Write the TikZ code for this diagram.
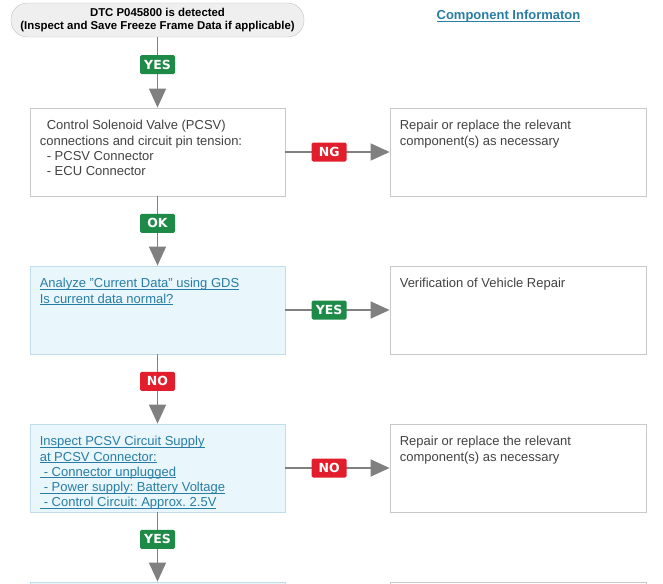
\documentclass[tikz,border=0pt]{standalone}
\usepackage{fontspec}
\setmainfont{Liberation Sans}
\newfontfamily\tagfont{DejaVu Sans}
\usetikzlibrary{arrows.meta,positioning}

\definecolor{boxline}{RGB}{201,201,201}
\definecolor{blueline}{RGB}{192,222,234}
\definecolor{bluefill}{RGB}{233,246,251}
\definecolor{pillfill}{RGB}{239,239,239}
\definecolor{pillline}{RGB}{192,192,192}
\definecolor{linkblue}{RGB}{40,125,165}
\definecolor{bodytext}{RGB}{66,66,66}
\definecolor{okgreen}{RGB}{30,138,72}
\definecolor{ngred}{RGB}{226,30,45}
\definecolor{flowgray}{RGB}{128,128,128}

% underlined link text
\newlength\lnkwd
\newcommand\lnk[1]{\settowidth\lnkwd{#1}\rlap{\rule[-2pt]{\lnkwd}{0.9pt}}#1}
\frenchspacing

\begin{document}
\begin{tikzpicture}[
    x=1pt, y=-1pt,
    >={Triangle[length=19pt,width=17pt]},
    flow/.style={->, draw=flowgray, line width=1.5pt},
    pill/.style={rectangle, draw=pillline, fill=pillfill, rounded corners=16.5pt, minimum width=293pt, minimum height=34pt, align=center, font=\bfseries\fontsize{11.4}{13.7}\selectfont},
    box/.style={rectangle, draw=boxline, fill=white, line width=0.8pt, minimum width=255pt, minimum height=88pt, inner sep=0pt},
    qbox/.style={box, draw=blueline, fill=bluefill},
    fixbox/.style={box, minimum width=256pt},
    txt/.style={anchor=north west, inner sep=0pt, align=left, text=bodytext, font=\fontsize{13}{15.3}\selectfont},
    lnktxt/.style={txt, text=linkblue},
    tag/.style={rectangle, rounded corners=1.5pt, minimum width=35pt, minimum height=19pt, inner sep=0pt, text=white, font=\tagfont\bfseries\fontsize{12.5}{13}\selectfont},
    gotag/.style={tag, fill=okgreen},
    stoptag/.style={tag, fill=ngred}
]
\useasboundingbox (0,0) rectangle (663,583);

% Cabecera
\node[pill] (dtc) at (157.5,20) {DTC P045800 is detected\\(Inspect and Save Freeze Frame Data if applicable)};
\node[anchor=base, text=linkblue, font=\bfseries\fontsize{13}{15}\selectfont] (info) at (508.5,19.5) {\lnk{Component Informaton}};

% Fila 1: conectores
\node[box] (chk) at (157.5,152) {};
\node[fixbox] (fix1) at (518,152) {};
\node[txt] (chktxt) at ([xshift=10pt,yshift=-12.5pt]chk.north west) {\hspace*{7pt}Control Solenoid Valve (PCSV)\\connections and circuit pin tension:\\\hspace*{7pt}- PCSV Connector\\\hspace*{7pt}- ECU Connector};
\node[txt] (fix1txt) at ([xshift=10pt,yshift=-12.5pt]fix1.north west) {Repair or replace the relevant\\component(s) as necessary};

% Fila 2: datos actuales
\node[qbox] (gds) at (157.5,310) {};
\node[fixbox] (verif) at (518,310) {};
\node[lnktxt] (gdstxt) at ([xshift=10pt,yshift=-12.5pt]gds.north west) {\lnk{Analyze "Current Data" using GDS}\\\lnk{Is current data normal?}};
\node[txt] (veriftxt) at ([xshift=10pt,yshift=-12.5pt]verif.north west) {Verification of Vehicle Repair};

% Fila 3: alimentacion del circuito
\node[qbox] (sup) at (157.5,468) {};
\node[fixbox] (fix2) at (518,468) {};
\node[lnktxt] (suptxt) at ([xshift=10pt,yshift=-12.5pt]sup.north west) {\lnk{Inspect PCSV Circuit Supply}\\\lnk{at PCSV Connector:}\\\lnk{\hspace*{4pt}- Connector unplugged}\\\lnk{\hspace*{4pt}- Power supply: Battery Voltage}\\\lnk{\hspace*{4pt}- Control Circuit: Approx. 2.5V}};
\node[txt] (fix2txt) at ([xshift=10pt,yshift=-12.5pt]fix2.north west) {Repair or replace the relevant\\component(s) as necessary};

% Fila 4 (solo el borde superior queda visible)
\node[qbox] (nextq) at (157.5,626) {};
\node[fixbox] (nextfix) at (518,626) {};

% Conexiones
\draw[flow] (dtc.south) -- node[gotag, pos=0.39] (t1) {YES} (chk.north);
\draw[flow] (chk.east) -- node[stoptag, pos=0.42] (t2) {NG} (fix1.west);
\draw[flow] (chk.south) -- node[gotag, pos=0.39] (t3) {OK} (gds.north);
\draw[flow] (gds.east) -- node[gotag, pos=0.42] (t4) {YES} (verif.west);
\draw[flow] (gds.south) -- node[stoptag, pos=0.39] (t5) {NO} (sup.north);
\draw[flow] (sup.east) -- node[stoptag, pos=0.42] (t6) {NO} (fix2.west);
\draw[flow] (sup.south) -- node[gotag, pos=0.39] (t7) {YES} (nextq.north);
\end{tikzpicture}
\end{document}
